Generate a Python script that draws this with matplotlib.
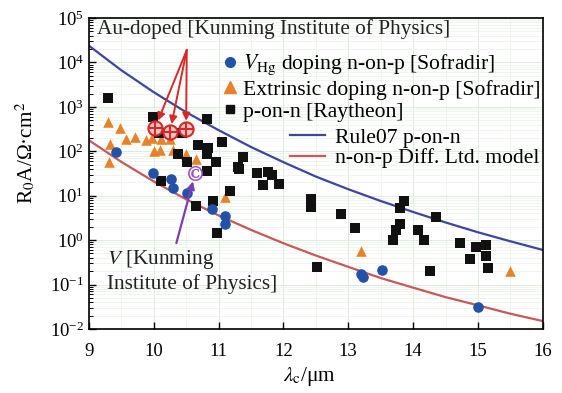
import numpy as np
import matplotlib
matplotlib.use("Agg")
import matplotlib.pyplot as plt
from matplotlib.lines import Line2D
from matplotlib.ticker import LogLocator, MultipleLocator, NullFormatter

plt.rcParams["font.family"] = ["Liberation Serif", "DejaVu Serif"]
plt.rcParams["mathtext.fontset"] = "stix"

#  DATA
# p-on-n [Raytheon]
sq_x = [9.29, 9.99, 10.82, 10.08, 10.43, 10.37, 10.51, 10.68, 10.83, 10.82,
        11.05, 10.96, 11.37, 11.30, 11.31, 11.59, 11.76, 11.82, 11.68, 11.93,
        10.82, 10.11, 11.17, 10.91, 10.66, 10.97, 12.42, 12.42, 12.89, 13.10,
        13.86, 13.80, 14.35, 13.80, 13.73, 13.69, 14.07, 14.16, 14.72, 14.97,
        15.12, 14.87, 15.12, 15.15, 12.52, 14.26]
sq_y = [1580, 590, 540, 257, 257, 87, 58, 138, 117, 87,
        162, 58, 74, 45, 40, 32, 34, 29, 17, 18,
        36, 21, 13, 7.6, 5.9, 1.45, 8.5, 5.6, 3.9, 1.87,
        7.6, 5.2, 3.3, 2.3, 1.7, 1.0, 1.7, 1.0, 0.87, 0.71,
        0.78, 0.38, 0.44, 0.24, 0.25, 0.20]

# V_Hg doping n-on-p [Sofradir]
ci_x = [9.42, 9.99, 10.26, 10.30, 10.51, 10.90, 11.10, 11.10, 13.19, 13.22, 13.52, 15.00]
ci_y = [96, 32, 24, 15, 11.5, 5.0, 3.5, 2.3, 0.17, 0.15, 0.21, 0.032]

# Extrinsic doping n-on-p [Sofradir]
tr_x = [9.29, 9.48, 9.32, 9.31, 9.58, 9.71, 9.88, 9.97, 10.12, 10.25,
        10.00, 10.10, 10.30, 10.50, 10.65, 11.10, 13.19, 15.49]
tr_y = [460, 330, 145, 58, 190, 210, 180, 200, 185, 190,
        100, 108, 105, 87, 68, 9.4, 0.58, 0.20]

# Au-doped [Kunming Institute of Physics]
au_x = [10.02, 10.25, 10.50]
au_y = [330, 270, 315]
au_tail = (10.51, 19000)

# V [Kunming Institute of Physics]
kv_x = [10.64]
kv_y = [32]
kv_tail = (10.35, 0.86)

# model curves
lam = [9.0, 9.5, 10.0, 10.5, 11.0, 11.5, 12.0, 12.5, 13.0, 13.5, 14.0, 14.5, 15.0, 15.5, 16.0]
rule07 = [24000, 6700, 2150, 760, 300, 125, 57, 27, 14, 7.6, 4.3, 2.5, 1.5, 0.94, 0.60]
diff_ltd = [178, 58, 21, 8.3, 3.6, 1.7, 0.85, 0.45, 0.25, 0.14, 0.085, 0.052, 0.034, 0.022, 0.015]

C_BLUE_LINE = "#3d45a0"
C_RED_LINE = "#c9585a"
C_CIRCLE = "#2152a8"
C_TRI = "#e8822a"
C_AU = "#d42a2a"
C_PURPLE = "#9a4fc4"

FS = 13.5      # tick labels
FT = 15.3      # notes, axis labels
FL = 15.6      # legend

fig = plt.figure(figsize=(5.62, 3.93), dpi=100)
ax = fig.add_axes([0.158, 0.163, 0.808, 0.791])

ax.set_yscale("log")
ax.set_xlim(9, 16)
ax.set_ylim(1e-2, 1e5)

# faint background grid
ax.xaxis.set_minor_locator(MultipleLocator(0.5))
ax.grid(which="major", color="#dbeddb", lw=0.7)
ax.grid(which="minor", color="#e8f3e8", lw=0.5)
ax.set_axisbelow(True)

ax.plot(lam, rule07, color=C_BLUE_LINE, lw=1.6, zorder=2)
ax.plot(lam, diff_ltd, color=C_RED_LINE, lw=1.6, zorder=2)

ax.scatter(tr_x, tr_y, marker="^", s=58, color=C_TRI, lw=0, zorder=3)
ax.scatter(sq_x, sq_y, marker="s", s=42, color="#111111", lw=0, zorder=3)
ax.scatter(ci_x, ci_y, marker="o", s=58, color=C_CIRCLE, lw=0, zorder=4)

# Au-doped markers with arrows
ax.scatter(au_x, au_y, marker="o", s=105, facecolor="#f4c4c4", edgecolor=C_AU, lw=1.5, zorder=5)
ax.scatter(au_x, au_y, marker="+", s=105, color=C_AU, lw=1.5, zorder=6)
for x, y in zip(au_x, au_y):
    ax.annotate("", xy=(x, y), xytext=au_tail,
                arrowprops=dict(arrowstyle="-|>", color=C_AU, lw=1.4,
                                shrinkA=0, shrinkB=6, mutation_scale=11),
                zorder=6)

# Kunming V marker
ax.scatter(kv_x, kv_y, marker=r"$\copyright$", s=110, color=C_PURPLE, lw=0.4, zorder=5)
ax.annotate("", xy=(kv_x[0], kv_y[0]), xytext=kv_tail,
            arrowprops=dict(arrowstyle="-|>", color="#7a3fb2", lw=1.6,
                            shrinkA=0, shrinkB=6, mutation_scale=11),
            zorder=6)

ax.text(9.28, 0.66, "$V$ [Kunming\nInstitute of Physics]", fontsize=FT,
        ha="left", va="top", linespacing=1.2, color="#222222")
ax.text(0.018, 0.966, "Au-doped [Kunming Institute of Physics]", transform=ax.transAxes,
        fontsize=FT, ha="left", va="center", color="#222222")

# legends
h1 = [Line2D([], [], ls="none", marker="o", ms=7, color=C_CIRCLE),
      Line2D([], [], ls="none", marker="^", ms=8, color=C_TRI),
      Line2D([], [], ls="none", marker="s", ms=6, color="#111111")]
l1 = [r"$V_{\rm Hg}$ doping n-on-p [Sofradir]",
      "Extrinsic doping n-on-p [Sofradir]",
      "p-on-n [Raytheon]"]
leg1 = ax.legend(h1, l1, loc="upper left", bbox_to_anchor=(0.297, 0.888),
                 frameon=False, fontsize=FL, handlelength=0.6, handletextpad=0.28,
                 borderpad=0, borderaxespad=0, labelspacing=0.1)
ax.add_artist(leg1)

h2 = [Line2D([], [], color=C_BLUE_LINE, lw=1.6),
      Line2D([], [], color=C_RED_LINE, lw=1.6)]
l2 = ["Rule07 p-on-n", "n-on-p Diff. Ltd. model"]
ax.legend(h2, l2, loc="upper left", bbox_to_anchor=(0.443, 0.647),
          frameon=False, fontsize=FL, handlelength=1.6, handletextpad=0.46,
          borderpad=0, borderaxespad=0, labelspacing=0.0)

ax.set_xticks(range(9, 17))
ax.yaxis.set_major_locator(LogLocator(base=10, numticks=10))
ax.yaxis.set_minor_locator(LogLocator(base=10, subs=np.arange(2, 10), numticks=20))
ax.yaxis.set_minor_formatter(NullFormatter())
ax.tick_params(which="both", direction="in", labelsize=FS, top=False, right=False)
ax.tick_params(which="major", length=5, width=1)
ax.tick_params(which="minor", length=3, width=0.7)
ax.tick_params(axis="x", which="minor", length=0)
ax.tick_params(axis="x", pad=10)

for s in ax.spines.values():
    s.set_linewidth(1.2)

ax.set_xlabel(r"$\lambda_{\rm c}$/μm", fontsize=FT)
ax.set_ylabel(r"R$_0$A/Ω·cm$^2$", fontsize=FT)
ax.xaxis.set_label_coords(0.485, -0.115)
ax.yaxis.set_label_coords(-0.112, 0.566)

fig.savefig("out.png", dpi=100)
